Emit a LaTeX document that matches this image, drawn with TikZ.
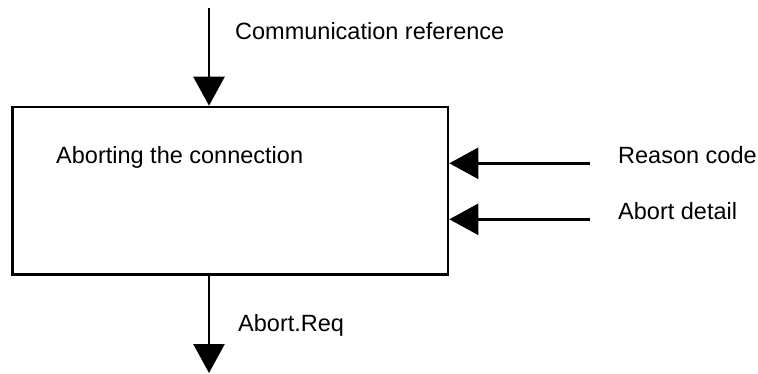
\documentclass[tikz,border=0pt]{standalone}
\usepackage{fontspec}
\setmainfont{Liberation Sans}
\usetikzlibrary{arrows.meta}
\begin{document}
\begin{tikzpicture}[x=1pt,y=-1pt,
  lbl/.style={anchor=base west,inner sep=0pt,font=\fontsize{23.5}{28}\selectfont},
  conn/.style={line width=2.6pt,-{Triangle[length=29pt,width=31pt]}},
  procbox/.style={draw,line width=2.6pt,minimum width=435.5pt,minimum height=167.5pt,inner sep=0pt}]
\useasboundingbox (0,0) rectangle (758,374);
\node[procbox] (box) at (230.25,190.75) {};
\node[lbl] (title) at (56,163.3) {Aborting the connection};
\coordinate (ctop) at (209,8);
\coordinate (cbot) at (209,373);
\coordinate (rc) at (590,163.3);
\coordinate (ad) at (590,219.3);
\draw[conn] (ctop) -- (ctop |- box.north);
\draw[conn] (cbot |- box.south) -- (cbot);
\draw[conn] (rc) -- (rc -| box.east);
\draw[conn] (ad) -- (ad -| box.east);
\node[lbl] (lcr) at (235,39.3) {Communication reference};
\node[lbl] (lrc) at (618,163.3) {Reason code};
\node[lbl] (lad) at (618,220) {Abort detail};
\node[lbl] (lar) at (238,331.7) {Abort.Req};
\end{tikzpicture}
\end{document}
